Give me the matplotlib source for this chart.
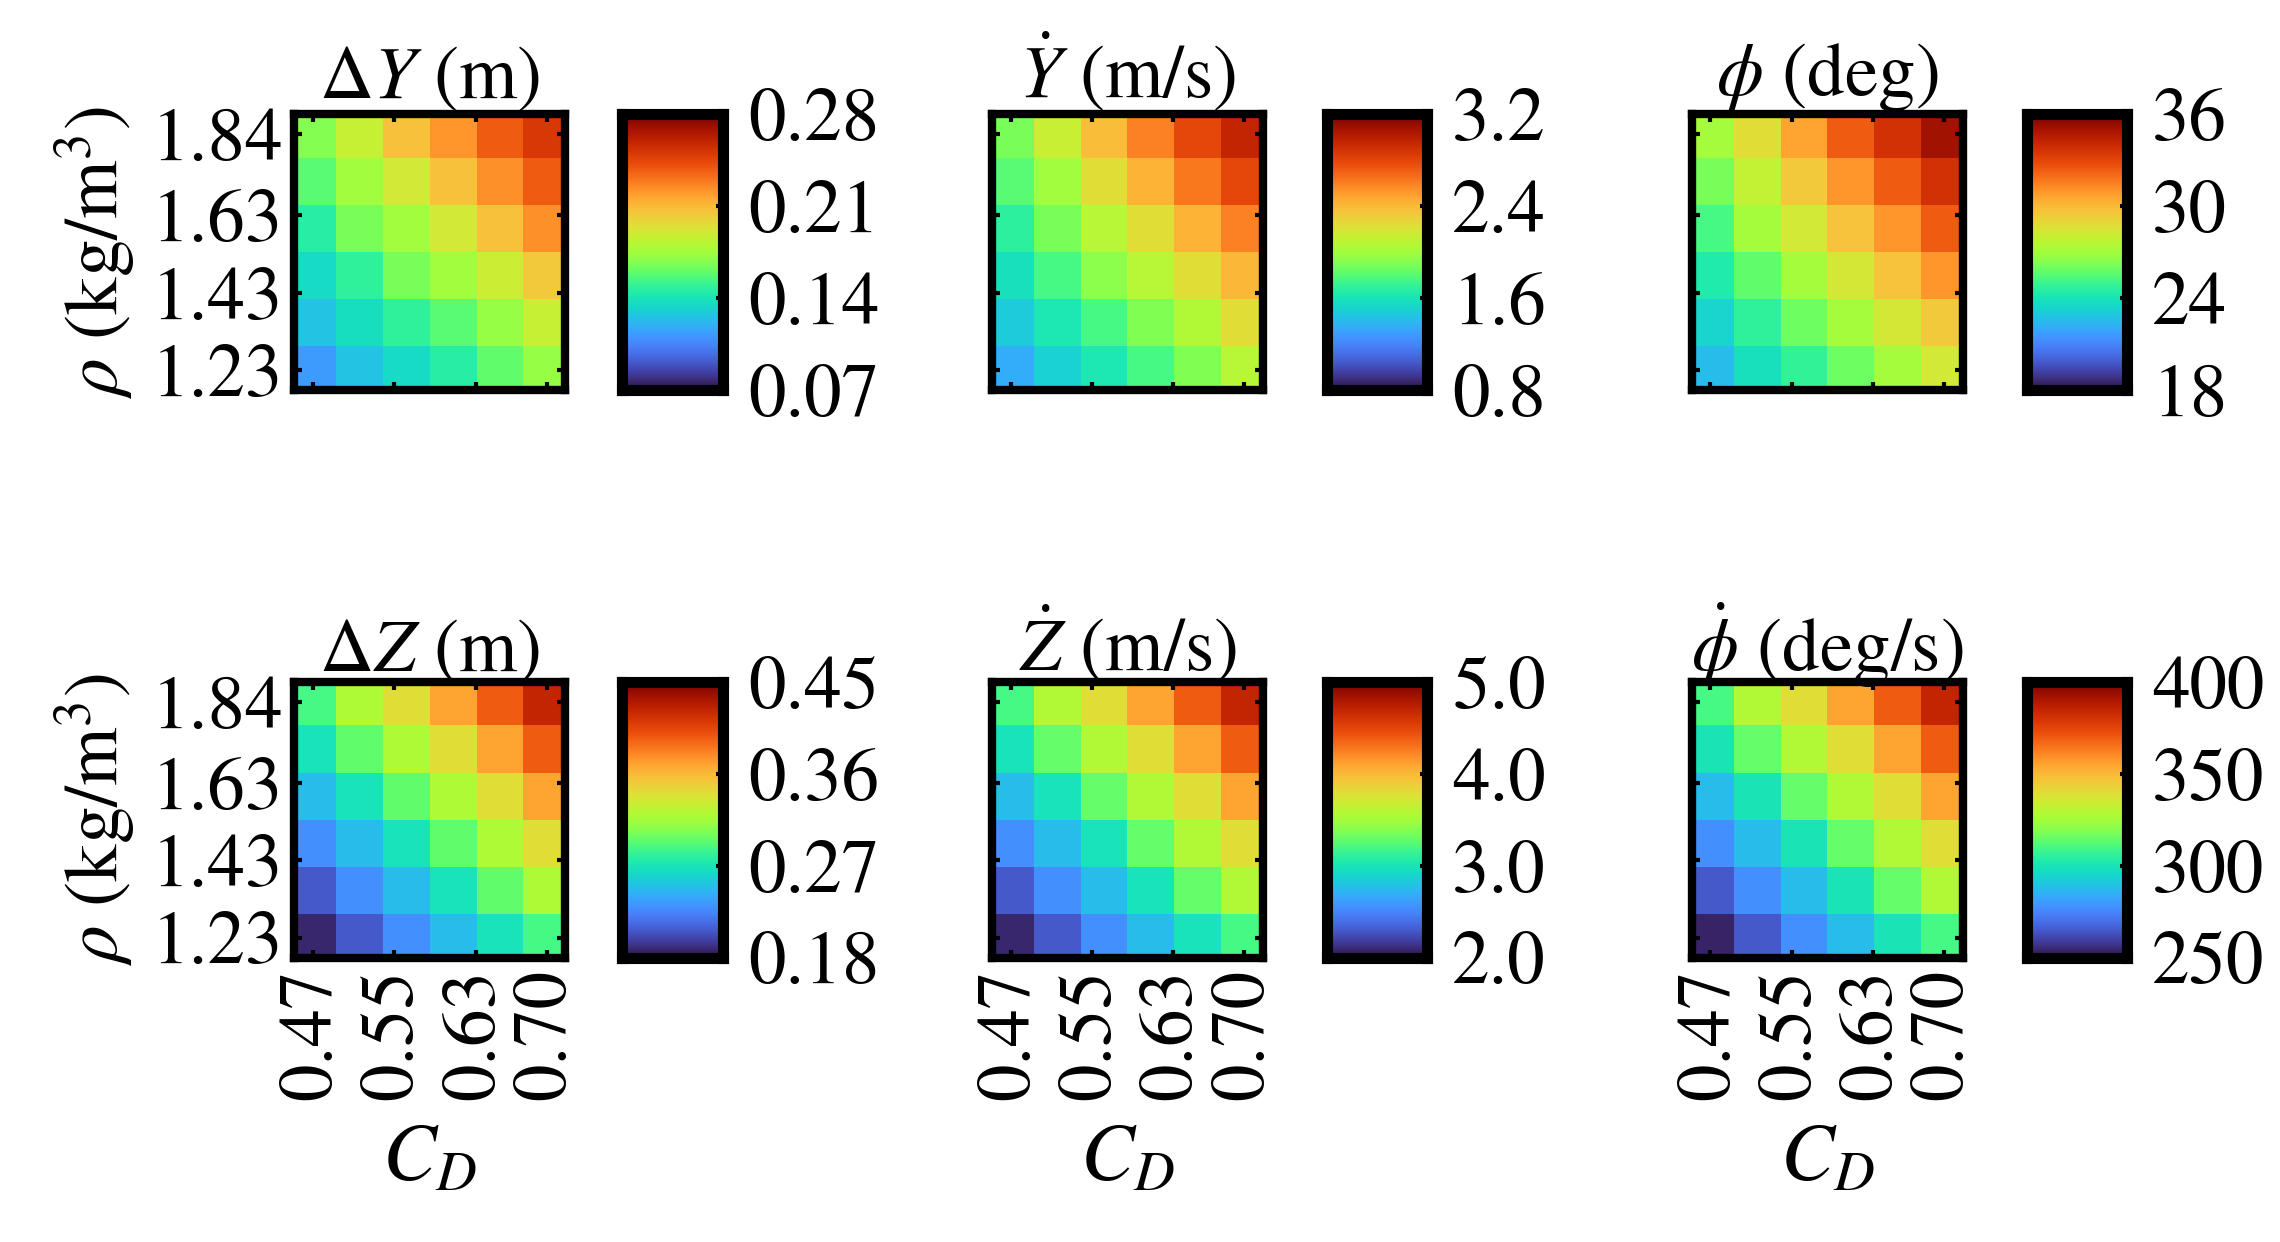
import matplotlib
matplotlib.use("Agg")
import matplotlib.pyplot as plt
import numpy as np

plt.rcParams['font.family'] = 'STIXGeneral'
plt.rcParams['mathtext.fontset'] = 'stix'

cd = [0.47, 0.516, 0.562, 0.608, 0.654, 0.70]
rho = [1.23, 1.352, 1.474, 1.596, 1.718, 1.84]
cd_ticks = [0.47, 0.55, 0.63, 0.70]
rho_ticks = [1.23, 1.43, 1.63, 1.84]

# rows from rho=1.84 (top) down to 1.23
dY = [[0.167, 0.186, 0.207, 0.221, 0.238, 0.251],
      [0.158, 0.175, 0.190, 0.207, 0.223, 0.238],
      [0.146, 0.165, 0.175, 0.190, 0.207, 0.223],
      [0.135, 0.148, 0.165, 0.175, 0.188, 0.204],
      [0.125, 0.137, 0.148, 0.158, 0.171, 0.186],
      [0.112, 0.125, 0.135, 0.146, 0.160, 0.171]]
Ydot = [[1.88, 2.14, 2.38, 2.60, 2.79, 2.96],
        [1.81, 2.00, 2.24, 2.43, 2.62, 2.79],
        [1.69, 1.88, 2.07, 2.24, 2.43, 2.60],
        [1.57, 1.76, 1.93, 2.07, 2.24, 2.41],
        [1.47, 1.62, 1.76, 1.90, 2.05, 2.24],
        [1.35, 1.50, 1.62, 1.76, 1.90, 2.07]]
phi = [[27.0, 28.8, 30.6, 32.4, 33.7, 35.1],
       [26.1, 27.9, 29.5, 31.0, 32.4, 33.7],
       [25.2, 27.0, 28.3, 29.7, 31.0, 32.4],
       [24.3, 25.7, 27.0, 28.4, 29.7, 31.0],
       [23.4, 24.7, 25.9, 27.0, 28.4, 29.5],
       [22.5, 23.8, 24.8, 25.9, 27.0, 28.3]]
dZ = [[0.288, 0.320, 0.342, 0.369, 0.396, 0.423],
      [0.269, 0.296, 0.320, 0.342, 0.369, 0.396],
      [0.248, 0.269, 0.296, 0.320, 0.342, 0.369],
      [0.229, 0.248, 0.269, 0.296, 0.320, 0.342],
      [0.207, 0.229, 0.248, 0.269, 0.296, 0.320],
      [0.188, 0.207, 0.229, 0.248, 0.269, 0.288]]
Zdot = [[3.20, 3.56, 3.80, 4.10, 4.40, 4.70],
        [2.99, 3.29, 3.56, 3.80, 4.10, 4.40],
        [2.75, 2.99, 3.29, 3.56, 3.80, 4.10],
        [2.54, 2.75, 2.99, 3.29, 3.56, 3.80],
        [2.30, 2.54, 2.75, 2.99, 3.29, 3.56],
        [2.09, 2.30, 2.54, 2.75, 2.99, 3.20]]
phidot = [[310, 328, 340, 355, 370, 385],
          [300, 315, 328, 340, 355, 370],
          [288, 300, 315, 328, 340, 355],
          [277, 288, 300, 315, 328, 340],
          [265, 277, 288, 300, 315, 328],
          [254, 265, 277, 288, 300, 310]]

panels = [
    (dY, r"$\Delta Y$ (m)", 0.07, 0.28, ["0.07", "0.14", "0.21", "0.28"]),
    (Ydot, r"$\dot{Y}$ (m/s)", 0.8, 3.2, ["0.8", "1.6", "2.4", "3.2"]),
    (phi, r"$\phi$ (deg)", 18, 36, ["18", "24", "30", "36"]),
    (dZ, r"$\Delta Z$ (m)", 0.18, 0.45, ["0.18", "0.27", "0.36", "0.45"]),
    (Zdot, r"$\dot{Z}$ (m/s)", 2.0, 5.0, ["2.0", "3.0", "4.0", "5.0"]),
    (phidot, r"$\dot{\phi}$ (deg/s)", 250, 400, ["250", "300", "350", "400"]),
]

fig = plt.figure(figsize=(22.8, 12.42), dpi=100)
fs = 54
hx = [0.129, 0.435, 0.742]
cx = [0.273, 0.582, 0.889]
rows_y = [0.686, 0.229]
dx = (cd[1] - cd[0]) / 2
dy = (rho[1] - rho[0]) / 2

for i, (data, title, vmin, vmax, labs) in enumerate(panels):
    r, c = divmod(i, 3)
    ax = fig.add_axes([hx[c], rows_y[r], 0.119, 0.222])
    arr = np.array(data)[::-1]
    ax.pcolormesh(np.array(cd), np.array(rho), arr, cmap='turbo',
                  vmin=vmin, vmax=vmax, shading='nearest')
    ax.set_xlim(cd[0] - 0.8 * dx, cd[-1] + 0.8 * dx)
    ax.set_ylim(rho[0] - 0.85 * dy, rho[-1] + 0.85 * dy)
    ax.set_xticks(cd_ticks)
    ax.set_yticks(rho_ticks)
    ax.tick_params(direction='in', top=True, right=True, length=6, width=3,
                   labelsize=fs, pad=8)
    for s in ax.spines.values():
        s.set_linewidth(6)
    ax.set_title(title, fontsize=fs, pad=8)
    if c == 0:
        ax.set_yticklabels([f"{v:.2f}" for v in rho_ticks])
        ax.set_ylabel(r"$\rho$ (kg/m$^3$)", fontsize=fs, labelpad=10)
    else:
        ax.set_yticklabels([])
    if r == 1:
        ax.set_xticklabels([f"{v:.2f}" for v in cd_ticks], rotation=90)
        ax.set_xlabel(r"$C_D$", fontsize=fs + 4, labelpad=18)
    else:
        ax.set_xticklabels([])

    cax = fig.add_axes([cx[c], rows_y[r], 0.044, 0.222])
    grad = np.linspace(vmin, vmax, 256).reshape(-1, 1)
    cax.imshow(grad, aspect='auto', cmap='turbo', origin='lower',
               extent=[0, 1, vmin, vmax], vmin=vmin, vmax=vmax)
    cax.set_xticks([])
    cax.yaxis.tick_right()
    cax.set_yticks(np.linspace(vmin, vmax, 4))
    cax.set_yticklabels(labs)
    cax.tick_params(direction='in', length=5, width=3, labelsize=fs, pad=18)
    for s in cax.spines.values():
        s.set_linewidth(8)

fig.savefig("out.png", dpi=100)
